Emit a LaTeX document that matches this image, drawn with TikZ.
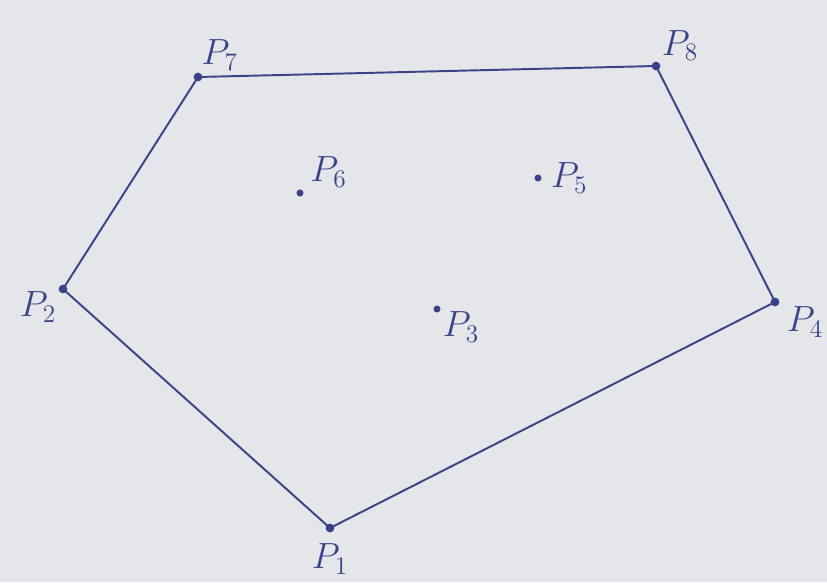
\documentclass[tikz,border=0pt]{standalone}
\usepackage{tikz}
\usetikzlibrary{positioning, calc}
\definecolor{inkblue}{RGB}{58,66,138}
\definecolor{paper}{RGB}{228,230,233}

\begin{document}
\begin{tikzpicture}[x=0.02cm, y=-0.02cm,
            pt/.style={circle, fill=inkblue, inner sep=0pt, minimum size=5pt},
            lab/.style={text=inkblue, font=\fontsize{20}{24}\selectfont, inner sep=1pt},
            hull/.style={draw=inkblue, line width=1.1pt, line join=round}]
          \fill[paper] (0,0) rectangle (827,582);
          \useasboundingbox (0,0) rectangle (827,582);
          % hull points
          \node[pt, label={[lab]70:$P_7$}] (p7) at (198,77) {};
          \node[pt, label={[lab]40:$P_8$}] (p8) at (656,66) {};
          \node[pt, label={[lab, label distance=3pt]-15:$P_4$}] (p4) at (775,302) {};
          \node[pt, label={[lab]190:$P_2$}] (p2) at (63,289) {};
          \node[pt, label={[lab, label distance=5pt]-90:$P_1$}] (p1) at (330,528) {};
          % inner points
          \node[pt, minimum size=4pt, label={[lab, label distance=3pt]25:$P_6$}] (p6) at (300,193) {};
          \node[pt, minimum size=4pt, label={[lab, label distance=4pt]0:$P_5$}] (p5) at (538,178) {};
          \node[pt, minimum size=4pt, label={[lab]-10:$P_3$}] (p3) at (437,309) {};
          \draw[hull] (p1.center) -- (p4.center) -- (p8.center) -- (p7.center)
                -- (p2.center) -- cycle;
        \end{tikzpicture}
\end{document}
